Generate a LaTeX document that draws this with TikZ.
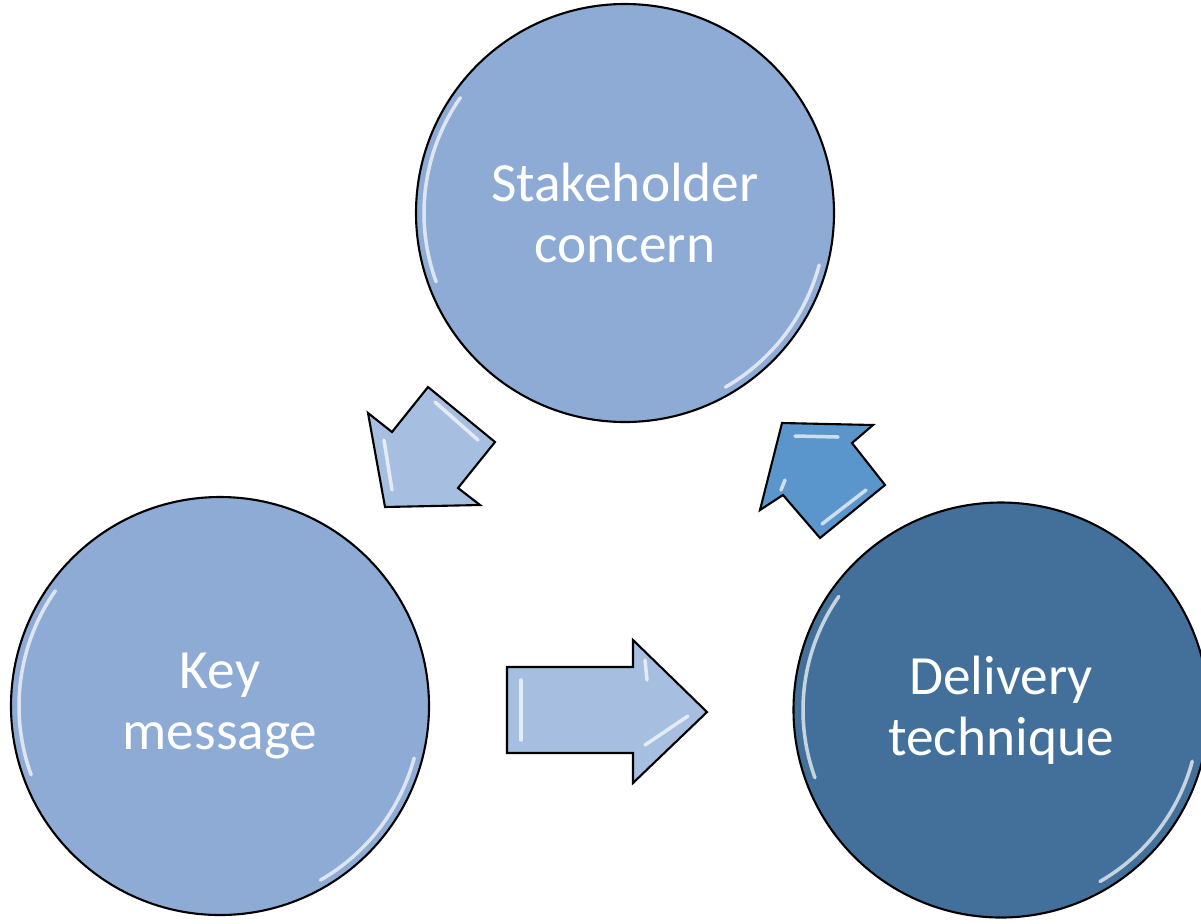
\documentclass[tikz,border=0pt]{standalone}
\usepackage{fontspec}
\setmainfont{Carlito}
\usepackage{tikz}
\usetikzlibrary{positioning,arrows.meta}

\definecolor{azulclaro}{HTML}{8EABD5}
\definecolor{azuloscuro}{HTML}{42709A}
\definecolor{flechaclara}{HTML}{A6BEE0}
\definecolor{flechamedia}{HTML}{5A96CC}

\begin{document}
\begin{tikzpicture}[x=0.2mm,y=-0.2mm,
    every node/.style={draw=black,circle,line width=1.2pt,inner sep=0pt,outer sep=0pt,minimum size=83.6mm,
        text=white,align=center,font=\fontsize{31.5pt}{34.6pt}\selectfont},
    flecha/.style={draw=black,line width=1.2pt,line join=miter},
    brillo/.style={white,opacity=.7,line width=2pt,line cap=round}] %Coordenadas en pixeles, y hacia abajo como en la imagen

    %El tamanio del dibujo (asi no se corre nada)
    \useasboundingbox (0,0) rectangle (1201,923);

    %Los tres circulos, cada uno con su nombre
    \node[fill=azulclaro] (stake) at (625,213) {Stakeholder\\concern};
    \node[fill=azulclaro] (key) at (220,706) {Key\\message};
    \node[fill=azuloscuro,minimum size=83mm] (deliv) at (1001,710) {Delivery\\technique};

    %Brillitos en el borde de los circulos (angulos al reves porque y va para abajo)
    \draw[brillo] (stake.center) ++(160:201) arc[start angle=160,end angle=215,radius=201];
    \draw[brillo] (stake.center) ++(15:201) arc[start angle=15,end angle=60,radius=201];
    \draw[brillo] (key.center) ++(160:201) arc[start angle=160,end angle=215,radius=201];
    \draw[brillo] (key.center) ++(15:201) arc[start angle=15,end angle=60,radius=201];
    \draw[brillo] (deliv.center) ++(160:198) arc[start angle=160,end angle=215,radius=198];
    \draw[brillo] (deliv.center) ++(15:198) arc[start angle=15,end angle=60,radius=198];

    %Las flechas gordas (son poligonos, no hay otra)
    \draw[flecha,fill=flechaclara] (385,507) -- (368,413) -- (392,432) -- (428,387) -- (495,442) -- (458,488) -- (480,505) -- cycle;
    \draw[flecha,fill=flechaclara] (507,667) -- (633,667) -- (633,640) -- (707,712) -- (633,783) -- (633,753) -- (507,753) -- cycle;
    \draw[flecha,fill=flechamedia] (782,423) -- (873,425) -- (852,443) -- (885,485) -- (820,538) -- (783,495) -- (760,510) -- cycle;

    %Y el efecto biselado de las flechas
    \draw[brillo] (435,402) -- (478,440);
    \draw[brillo] (384,440) -- (392,490);
    \draw[brillo] (521,680) -- (521,740);
    \draw[brillo] (645,660) -- (647,680);
    \draw[brillo] (645,745) -- (688,716);
    \draw[brillo] (795,436) -- (838,437);
    \draw[brillo] (822,524) -- (866,490);
    \draw[brillo] (785,480) -- (781,490);

\end{tikzpicture}
\end{document}
